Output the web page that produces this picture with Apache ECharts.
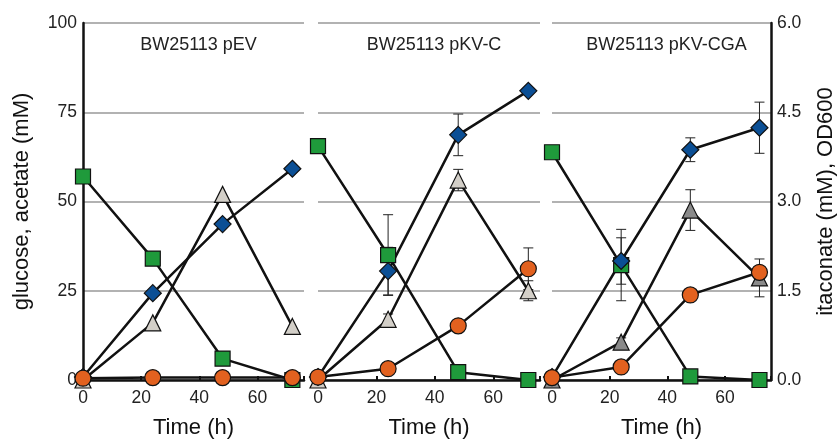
<!DOCTYPE html>
<html>
<head>
    <meta charset="UTF-8">
    <script src="https://cdn.jsdelivr.net/npm/echarts@6/dist/echarts.min.js"></script>
    <style>
        html, body { margin: 0; padding: 0; background: #fff; }
        #main { width: 838px; height: 440px; }
    </style>
</head>
<body>
<div id="main"></div>
<script type="text/javascript">
    // sampling times (h)
    var times = [0, 24, 48, 72];
    var panelTitles = ['BW25113 pEV', 'BW25113 pKV-C', 'BW25113 pKV-CGA'];
    var leftTicks = [0, 25, 50, 75, 100];
    var rightTicks = [0, 1.5, 3.0, 4.5, 6.0];

    // left axis (mM), one row per panel
    var glucose = [[57, 34, 6, 0], [65.5, 35, 2.2, 0], [63.8, 32.2, 1, 0]];
    var glucoseErr = [[0, 0, 0, 0], [0, 11.3, 0, 0], [1, 10, 0, 0]];
    var acetate = [[0, 16, 52, 15], [0, 17, 56, 25], [0, 10.6, 47.6, 28.6]];
    var acetateErr = [[0, 0, 0, 0], [0, 1.5, 3, 2.8], [0, 1.2, 5.7, 5.3]];
    // right axis (mM / OD600)
    var od600 = [[0.05, 1.46, 2.62, 3.55], [0.05, 1.83, 4.12, 4.86], [0.05, 2.0, 3.87, 4.24]];
    var od600Err = [[0, 0, 0, 0], [0, 0.4, 0.35, 0], [0, 0.39, 0.2, 0.43]];
    var itaconate = [[0.03, 0.04, 0.04, 0.04], [0.05, 0.19, 0.91, 1.87], [0.04, 0.22, 1.43, 1.81]];
    var itaconateErr = [[0, 0, 0, 0], [0, 0, 0.06, 0.35], [0, 0, 0, 0.1]];

    var font = 'Liberation Sans, Arial, sans-serif';
    var grids = [
        {left: 83, width: 221, top: 23, height: 357, outerBoundsMode: 'none'},
        {left: 318, width: 222, top: 23, height: 357, outerBoundsMode: 'none'},
        {left: 552, width: 219, top: 23, height: 357, outerBoundsMode: 'none'}
    ];

    function pts(vals) {
        return times.map(function (t, i) { return [t, vals[i]]; });
    }
    function errPts(vals, errs) {
        return times.map(function (t, i) { return [t, vals[i], errs[i]]; });
    }

    function renderErr(params, api) {
        var x = api.value(0), y = api.value(1), e = api.value(2);
        if (!e) return;
        var top = api.coord([x, y + e]);
        var bot = api.coord([x, y - e]);
        var st = {stroke: '#222', lineWidth: 1};
        return {
            type: 'group',
            children: [
                {type: 'line', shape: {x1: top[0], y1: top[1], x2: bot[0], y2: bot[1]}, style: st},
                {type: 'line', shape: {x1: top[0] - 5, y1: top[1], x2: top[0] + 5, y2: top[1]}, style: st},
                {type: 'line', shape: {x1: bot[0] - 5, y1: bot[1], x2: bot[0] + 5, y2: bot[1]}, style: st}
            ]
        };
    }

    var xAxes = [], yAxes = [], series = [];
    grids.forEach(function (g, p) {
        xAxes.push({
            type: 'value', gridIndex: p, min: 0, max: 76, interval: 20,
            name: 'Time (h)', nameLocation: 'middle', nameGap: 37,
            nameTextStyle: {fontSize: 22, color: '#111', fontFamily: font},
            axisLine: {show: true, onZero: false, lineStyle: {color: '#111', width: 2.5}},
            axisTick: {show: true, inside: true, length: 4, lineStyle: {color: '#111', width: 2}},
            axisLabel: {
                fontSize: 17.5, color: '#222', fontFamily: font, margin: 9,
                formatter: function (v) { return v % 20 === 0 ? String(v) : ''; }
            },
            splitLine: {show: false}
        });
        yAxes.push({
            type: 'value', gridIndex: p, min: leftTicks[0], max: leftTicks[leftTicks.length - 1],
            interval: leftTicks[1] - leftTicks[0], position: 'left',
            name: p === 0 ? 'glucose, acetate (mM)' : '', nameLocation: 'middle', nameGap: 50, nameRotate: 90,
            nameTextStyle: {fontSize: 22, color: '#111', fontFamily: font},
            axisLine: {show: p === 0, lineStyle: {color: '#111', width: 2.5}},
            axisTick: {show: false},
            axisLabel: {show: p === 0, fontSize: 17.5, color: '#222', fontFamily: font, margin: 6},
            splitLine: {show: true, lineStyle: {color: '#999', width: 1.5}}
        });
        yAxes.push({
            type: 'value', gridIndex: p, min: rightTicks[0], max: rightTicks[rightTicks.length - 1],
            interval: rightTicks[1] - rightTicks[0], position: 'right',
            name: p === 2 ? 'itaconate (mM), OD600' : '', nameLocation: 'middle', nameGap: 44, nameRotate: 90,
            nameTextStyle: {fontSize: 22, color: '#111', fontFamily: font},
            axisLine: {show: p === 2, lineStyle: {color: '#111', width: 2.5}},
            axisTick: {show: false},
            axisLabel: {
                show: p === 2, fontSize: 17.5, color: '#222', fontFamily: font, margin: 6,
                formatter: function (v) { return v.toFixed(1); }
            },
            splitLine: {show: false}
        });

        var yl = p * 2, yr = p * 2 + 1;
        // error bars
        [[glucose, glucoseErr, yl], [acetate, acetateErr, yl], [od600, od600Err, yr], [itaconate, itaconateErr, yr]]
            .forEach(function (s) {
                series.push({
                    type: 'custom', xAxisIndex: p, yAxisIndex: s[2], z: 1, silent: true,
                    renderItem: renderErr, data: errPts(s[0][p], s[1][p])
                });
            });

        function line(name, data, yIdx, symbol, size, fill) {
            series.push({
                name: name, type: 'line', xAxisIndex: p, yAxisIndex: yIdx, z: 3,
                data: pts(data), symbol: symbol, symbolSize: size,
                lineStyle: {color: '#111', width: 2.5},
                itemStyle: {color: fill, borderColor: '#111', borderWidth: 1.2},
                animation: false
            });
        }
        line('glucose', glucose[p], yl, 'rect', 15, '#1f9a3b');
        line('acetate', acetate[p], yl, 'triangle', 16, p === 2 ? '#8a8a8a' : '#d3cfc8');
        line('OD600', od600[p], yr, 'diamond', 17, '#0b4f95');
        line('itaconate', itaconate[p], yr, 'circle', 16, '#e2611f');
    });

    var myChart = echarts.init(document.getElementById('main'));
    var option = {
        animation: false,
        grid: grids,
        xAxis: xAxes,
        yAxis: yAxes,
        series: series,
        title: panelTitles.map(function (t, p) {
            return {
                text: t, left: grids[p].left + grids[p].width / 2, top: 31, textAlign: 'center',
                textStyle: {fontSize: 18, fontWeight: 'normal', color: '#222', fontFamily: font}
            };
        })
    };
    myChart.setOption(option);
</script>
</body>
</html>
